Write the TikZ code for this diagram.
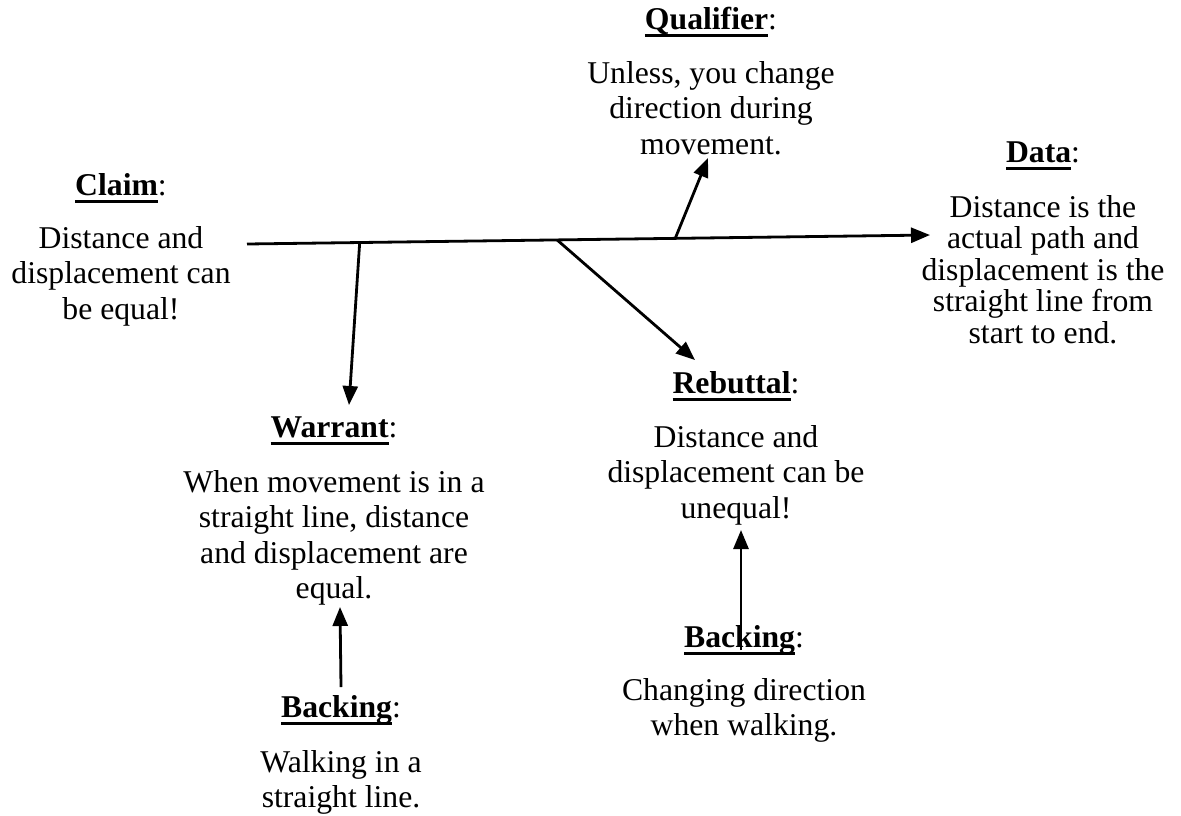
\documentclass[tikz,border=0pt]{standalone}
\usepackage{fontspec}
\setmainfont{Liberation Serif}
\usetikzlibrary{arrows.meta}

% bold heading, underlined, followed by a plain colon
\newcommand\hd[1]{\sbox0{\bfseries #1}\rlap{\rule[-0.24em]{\wd0}{0.08em}}\usebox0:}
% centred lines; the node baseline is the first line's baseline
\newcommand\blk[1]{\begin{tabular}[t]{@{}c@{}}#1\end{tabular}}

\tikzset{
  lbl/.style={inner sep=0pt, anchor=base, font=\fontsize{31.7}{35.5}\selectfont},
  tight/.style={font=\fontsize{31.7}{31.5}\selectfont},
  arr/.style={line width=2.8pt, -{Triangle[length=19pt,width=15pt]}},
}

\begin{document}
\begin{tikzpicture}[x=1pt, y=-1pt]
\useasboundingbox (0,0) rectangle (1181,815);

% Claim
\node[lbl] (claimHd) at (121,195) {\hd{Claim}};
\node[lbl] (claim) at (121,248) {\blk{Distance and\\displacement can\\be equal!}};

% Qualifier
\node[lbl] (qualHd) at (711,29) {\hd{Qualifier}};
\node[lbl] (qual) at (711,83) {\blk{Unless, you change\\direction during\\movement.}};

% Data
\node[lbl] (dataHd) at (1043,162) {\hd{Data}};
\node[lbl,tight] (data) at (1043,217) {\blk{Distance is the\\actual path and\\displacement is the\\straight line from\\start to end.}};

% Warrant
\node[lbl] (warrHd) at (334,437) {\hd{Warrant}};
\node[lbl] (warr) at (334,492) {\blk{When movement is in a\\straight line, distance\\and displacement are\\equal.}};

% Rebuttal
\node[lbl] (rebHd) at (736,393) {\hd{Rebuttal}};
\node[lbl] (reb) at (736,447) {\blk{Distance and\\displacement can be\\unequal!}};

% Backing of the warrant
\node[lbl] (backAHd) at (341,717) {\hd{Backing}};
\node[lbl] (backA) at (341,772) {\blk{Walking in a\\straight line.}};

% Backing of the rebuttal
\node[lbl] (backBHd) at (744,647) {\hd{Backing}};
\node[lbl] (backB) at (744,700) {\blk{Changing direction\\when walking.}};

% main line from claim to data
\coordinate (mainStart) at (247,244);
\coordinate (mainEnd) at (930,235);
\draw[arr] (mainStart) -- (mainEnd);
\path (mainStart) -- (mainEnd)
  coordinate[pos=0.165] (warrFoot)
  coordinate[pos=0.454] (rebFoot)
  coordinate[pos=0.627] (qualFoot);

% branches
\coordinate (warrTip) at (349,405);
\coordinate (rebTip) at (695,360);
\coordinate (qualTip) at (708,158);
\draw[arr] (warrFoot) -- (warrTip);
\draw[arr] (rebFoot) -- (rebTip);
\draw[arr] (qualFoot) -- (qualTip);

% backing arrows
\coordinate (backAFoot) at (341,687);
\coordinate (backATip) at (340,607);
\coordinate (backBFoot) at (741,650);
\coordinate (backBTip) at (741,530);
\draw[arr] (backAFoot) -- (backATip);
\draw[arr] (backBFoot) -- (backBTip);
\end{tikzpicture}
\end{document}
